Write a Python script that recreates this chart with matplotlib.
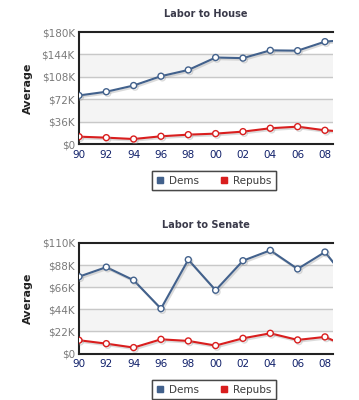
import matplotlib.pyplot as plt
import matplotlib.patheffects as pe
from matplotlib.lines import Line2D

# election cycles (2010 point sits just past the right edge)
years = [1990, 1992, 1994, 1996, 1998, 2000, 2002, 2004, 2006, 2008, 2010]
year_labels = ['90', '92', '94', '96', '98', '00', '02', '04', '06', '08']

# average labor contributions, in $K
house_dems = [78, 84, 94, 109, 119, 139, 138, 150.5, 150, 164.5, 168]
house_repubs = [11.8, 10.2, 8, 12.4, 15, 16.7, 19.9, 25.3, 27.9, 22, 19]
senate_dems = [76.5, 86, 73, 44.7, 93.4, 63, 92.4, 102.7, 84.2, 101, 67]
senate_repubs = [13.3, 9.9, 6, 14.2, 12.6, 8, 15.2, 20.2, 13.6, 16.6, 5]

house_ticks = [0, 36, 72, 108, 144, 180]
senate_ticks = [0, 22, 44, 66, 88, 110]

DEM = '#42618c'
REP = '#d91e1e'

fig = plt.figure(figsize=(3.59, 4.0), dpi=100)
fig.patch.set_facecolor('white')


def money(t):
    return '$0' if t == 0 else f'${t}K'


def draw_panel(rect, title, dems, repubs, ticks):
    ax = fig.add_axes(rect)
    ax.set_xlim(1990, 2008.6)
    ax.set_ylim(ticks[0], ticks[-1])

    # alternating light bands
    for i in range(len(ticks) - 1):
        if i in (1, 3):
            ax.axhspan(ticks[i], ticks[i + 1], color='#f4f4f4', zorder=0)
    for t in ticks[1:-1]:
        ax.axhline(t, color='#c8c8c8', lw=1, zorder=1)

    shadow = [pe.SimpleLineShadow(offset=(1, -1.2), shadow_color='#999999', alpha=0.35),
              pe.Normal()]
    for vals, col in ((dems, DEM), (repubs, REP)):
        ax.plot(years, vals, color=col, lw=1.5, marker='o', ms=4.3,
                mfc='white', mec=col, mew=1.0, zorder=3, clip_on=True,
                path_effects=shadow)

    ax.set_yticks(ticks)
    ax.set_yticklabels([money(t) for t in ticks])
    ax.set_xticks(years[:-1])
    ax.set_xticklabels(year_labels)
    ax.tick_params(axis='y', length=0, labelsize=7.5, labelcolor='#7a7a7a', pad=3)
    ax.tick_params(axis='x', length=0, labelsize=7.5, labelcolor='#10206a', pad=4)

    for side in ('top', 'left', 'bottom'):
        ax.spines[side].set_color('#222222')
        ax.spines[side].set_linewidth(1.5)
    ax.spines['right'].set_visible(False)

    ax.set_title(title, fontsize=7, fontweight='bold', color='#3a3a4a', pad=11)
    ax.set_ylabel('Average', fontsize=8, fontweight='bold', color='#222222', labelpad=6)
    return ax


draw_panel([0.220, 0.64, 0.708, 0.28], 'Labor to House',
           house_dems, house_repubs, house_ticks)
draw_panel([0.220, 0.116, 0.708, 0.2765], 'Labor to Senate',
           senate_dems, senate_repubs, senate_ticks)

handles = [Line2D([], [], ls='none', marker='s', ms=4.5, color=DEM),
           Line2D([], [], ls='none', marker='s', ms=4.5, color=REP)]
for top in (171, 380):
    leg = fig.legend(handles, ['Dems', 'Repubs'], ncol=2, loc='upper left',
                     bbox_to_anchor=(152 / 359, 1 - top / 400), borderaxespad=0,
                     fontsize=7.5, frameon=True, fancybox=False,
                     handlelength=0.7, handletextpad=0.5, columnspacing=2.0,
                     borderpad=0.45, edgecolor='#333333', labelcolor='#444444')
    leg.get_frame().set_linewidth(1.0)
    fig.add_artist(leg)

fig.savefig('out.png', dpi=100, facecolor='white')
